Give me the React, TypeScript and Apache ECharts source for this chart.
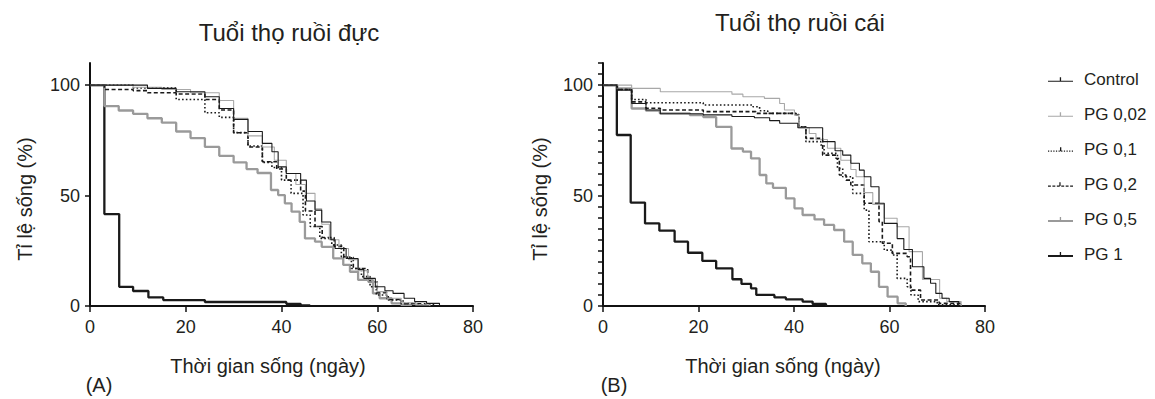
import React, { useEffect, useRef } from "react";
import * as echarts from "echarts";

// ---------- DATA ----------
const seriesNames = ["Control", "PG 0,02", "PG 0,1", "PG 0,2", "PG 0,5", "PG 1"];
const xTickValues = [0, 20, 40, 60, 80];
const yLabelValues = [0, 50, 100];
const yMinorTickValues = [0, 5, 10, 15, 20, 25, 30, 35, 40, 45, 50, 55, 60, 65, 70, 75, 80, 85, 90, 95, 100, 105, 110];

const titleA = "Tuổi thọ ruồi đực";
const titleB = "Tuổi thọ ruồi cái";
const xName = "Thời gian sống (ngày)";
const yName = "Tỉ lệ sống (%)";

// Male (A): [day, % alive]
const maleControl: [number, number][] = [[0, 100], [12, 98.5], [18, 97], [24, 94.7], [27, 89.4], [30, 84.5], [33, 79], [36, 73.6], [38, 69.8], [39.3, 63], [41, 60], [44, 57], [45.2, 47.5], [47, 43.4], [48.4, 38], [50.3, 30], [51.2, 26], [53.5, 21.5], [56, 16.5], [57.2, 12.5], [59.6, 8.7], [61.6, 6.9], [63.3, 5.7], [65.6, 3.5], [67.8, 2], [70.3, 1.2], [73, 0]];
const malePG002: [number, number][] = [[0, 100], [9, 99], [15, 98], [21, 96.5], [27, 93], [30, 85], [33, 77], [36, 72], [38.5, 66], [41, 60], [43, 55], [45, 51], [47, 44], [48.4, 37], [50, 30], [52, 26], [54, 21], [56, 16], [58, 11], [60, 6.5], [62, 3.5], [65, 1.5], [68, 0.5], [71, 0]];
const malePG01: [number, number][] = [[0, 100], [9, 98.7], [18, 93.5], [24, 87.5], [27, 85.4], [30, 78.5], [33, 72.4], [36, 65], [38, 62.7], [40, 57], [42, 51], [44.5, 41.2], [46, 36], [48, 30.6], [50.5, 27.6], [52.5, 22.3], [54.6, 17], [56.7, 13.3], [58.5, 8.7], [59.8, 5], [62.3, 2.7], [65.4, 1.2], [68, 0.5], [72, 0]];
const malePG02: [number, number][] = [[0, 100], [3, 98], [9, 97.5], [12, 96.5], [18, 96], [24, 93.5], [27, 88.7], [30, 78.4], [33, 72], [36, 65.3], [39, 62], [41, 57], [44, 52], [45, 43], [47, 36], [48.5, 31], [51, 27], [53, 22], [55, 17], [58, 11], [60, 6], [62, 3], [65, 1], [70, 0]];
const malePG05: [number, number][] = [[0, 100], [3, 90.5], [6, 88.5], [9, 87], [12, 85], [15, 83], [18, 79], [21, 76], [24, 72], [27, 68], [30, 65], [32.7, 62], [35, 60.2], [37.8, 52.5], [39.3, 50.2], [40.7, 46.5], [42.1, 42.7], [43.8, 38.1], [44.9, 30.6], [47, 29.1], [48.4, 26.8], [50.8, 21.6], [52.9, 18.6], [54.3, 15.5], [56, 11.8], [59.1, 5.7], [60.5, 3.5], [63, 1.2], [65, 0.5], [67, 0]];
const malePG1: [number, number][] = [[0, 100], [3, 41.6], [6.1, 8.7], [9, 6.8], [12.2, 3.9], [15.3, 2.7], [24, 1.8], [41, 1.0], [44, 0.3], [46, 0]];

// Female (B): [day, % alive]
const femaleControl: [number, number][] = [[0, 100], [2.9, 97.7], [6, 91.7], [9, 88.7], [12, 87], [21, 86.5], [27, 85.8], [31.7, 85.2], [34.9, 83.9], [37, 82.7], [40.8, 80.7], [46, 74.4], [48.6, 70.3], [50.2, 68.3], [51.9, 64.6], [53.7, 61.5], [54.7, 58.5], [56.1, 54], [57.8, 46.5], [58.9, 37.4], [61.6, 30.5], [63, 25.6], [64.8, 17.8], [67.2, 12.5], [68.6, 10.3], [69.7, 5.7], [71, 3.5], [72.5, 2], [74.5, 0]];
const femalePG002: [number, number][] = [[0, 100], [6, 98.5], [12, 97], [27, 95.9], [29.3, 94.7], [33.8, 94], [37, 91.7], [38, 88.7], [40.1, 86.4], [41, 80.7], [43.2, 78.1], [44.6, 75.4], [47, 71.4], [49.8, 66], [51.9, 61.8], [53, 58.5], [54.7, 51.3], [56.5, 46], [58.9, 39.7], [61.6, 35.9], [64.1, 24.6], [66.9, 12], [70.5, 3.5], [72, 2], [75, 0]];
const femalePG01: [number, number][] = [[0, 100], [3, 98], [6, 93.5], [9, 92], [21, 91], [31.4, 90.2], [32.8, 88.4], [34.5, 87.2], [40.4, 86.7], [41, 81.1], [42.5, 74.4], [45.6, 72.9], [46.3, 69.1], [49.1, 62.3], [50.2, 58.5], [52.3, 51], [54.7, 43.4], [55.7, 29.1], [58.9, 25.3], [60.6, 23.1], [61.6, 12.5], [63.7, 8.7], [64.5, 5], [66, 2], [70, 0.5], [75, 0]];
const femalePG02: [number, number][] = [[0, 100], [3, 98], [6, 92.4], [9, 89.5], [12, 88.7], [21, 88], [32, 87.2], [40.4, 86.5], [41, 81], [42.5, 75.9], [46, 68.3], [48.8, 66.8], [49.5, 59.3], [50.9, 57], [51.9, 54.8], [54.7, 46.5], [57.8, 38.2], [58.5, 28.4], [60.6, 23.8], [63.7, 22.3], [64.4, 7.2], [66.5, 2.7], [70.4, 1.2], [75, 0]];
const femalePG05: [number, number][] = [[0, 100], [2.9, 98.5], [6, 89.4], [9, 88.4], [11.9, 87.2], [18.2, 86.4], [21, 85.5], [23.7, 81.1], [26.9, 71.3], [29.3, 69.9], [31, 66.8], [32.8, 59.3], [34.2, 55.5], [35.6, 53.5], [38.3, 48.7], [40.1, 44.2], [41.8, 41.2], [44.3, 39.2], [46.3, 36.7], [48.4, 34.4], [50.5, 29.1], [52.3, 23.1], [54.3, 19.3], [56.1, 15.5], [57.8, 8.7], [59.6, 4.2], [61.7, 1.2], [63.4, 0]];
const femalePG1: [number, number][] = [[0, 100], [2.9, 77.4], [5.8, 46.8], [8.8, 37.4], [11.8, 34.1], [15, 29.1], [17.8, 24.1], [20.8, 20.4], [23.7, 17], [27.1, 12.1], [29, 10], [31, 8], [32.1, 5], [35.9, 3.9], [38.3, 3], [41.8, 2], [43.9, 0.9], [46.7, 0]];

const maleData = [maleControl, malePG002, malePG01, malePG02, malePG05, malePG1];
const femaleData = [femaleControl, femalePG002, femalePG01, femalePG02, femalePG05, femalePG1];

// ---------- STYLES ----------
const FONT = '"Liberation Sans", Arial, sans-serif';
const TEXT = "#231f20";
const styles = [
  { color: "#1a1a1a", width: 1.1, type: "solid" as any, kind: "solid", t: 1 },
  { color: "#a8a8a8", width: 1.1, type: "solid" as any, kind: "solid", t: 1 },
  { color: "#1a1a1a", width: 1.6, type: [1.6, 2.2] as any, kind: "dotted", t: 1.2 },
  { color: "#1a1a1a", width: 1.6, type: [4, 2.5] as any, kind: "dashed", t: 1.4 },
  { color: "#9a9a9a", width: 2.3, type: "solid" as any, kind: "solid", t: 2 },
  { color: "#1a1a1a", width: 2.3, type: "solid" as any, kind: "solid", t: 2 },
];

function iconPath(kind: string, t: number): string {
  let d = "";
  if (kind === "solid") {
    d += `M0,${6 - t / 2}h25v${t}h-25Z`;
  } else if (kind === "dotted") {
    for (let x = 0; x < 24; x += 2.6) d += `M${x},5.4h1.2v1.2h-1.2Z`;
  } else {
    for (let x = 0; x < 24; x += 4.6) d += `M${x},5.3h3v1.4h-3Z`;
  }
  d += "M11.8,2h1.3v4h-1.3Z";
  return "path://" + d;
}

export default function App() {
  const ref = useRef<HTMLDivElement>(null);
  useEffect(() => {
    if (!ref.current) return;
    const chart = echarts.init(ref.current, undefined, { renderer: "svg" });
    const grids = [
      { left: 90, top: 63, width: 383, height: 243 },
      { left: 603, top: 63, width: 382, height: 243 },
    ];
    const axisLine = { show: true, onZero: false, lineStyle: { color: "#111", width: 2 } };
    const xAxes = grids.map((_, i) => ({
      type: "value",
      gridIndex: i,
      min: 0,
      max: 80,
      interval: 20,
      axisLine,
      axisTick: { show: true, length: 6, lineStyle: { color: "#111", width: 1.5 }, customValues: xTickValues },
      axisLabel: { margin: 12, fontSize: 18, fontFamily: FONT, color: TEXT, customValues: xTickValues },
      splitLine: { show: false },
    }));
    const yAxes = grids.map((_, i) => ({
      type: "value",
      gridIndex: i,
      min: 0,
      max: 110,
      axisLine,
      axisTick: {
        show: true,
        length: 5,
        lineStyle: { color: "#111", width: 1.5 },
        customValues: i === 0 ? yLabelValues : yMinorTickValues,
      },
      axisLabel: { margin: 10, fontSize: 18, fontFamily: FONT, color: TEXT, customValues: yLabelValues },
      splitLine: { show: false },
    }));
    const series: any[] = [];
    [maleData, femaleData].forEach((group, gi) => {
      group.forEach((data, si) => {
        const st = styles[si];
        series.push({
          type: "line",
          name: seriesNames[si],
          xAxisIndex: gi,
          yAxisIndex: gi,
          step: "end",
          showSymbol: false,
          symbol: "none",
          data,
          color: st.color,
          itemStyle: { color: st.color },
          lineStyle: { color: st.color, width: st.width, type: st.type },
          z: 10 - si,
        });
      });
    });
    const txt = (x: number, y: number, text: string, size: number, rot = 0) => ({
      type: "text",
      x,
      y,
      rotation: rot,
      style: { text, fontSize: size, fontFamily: FONT, fill: TEXT, align: "center", verticalAlign: "middle" },
    });
    chart.setOption({
      animation: false,
      grid: grids,
      xAxis: xAxes,
      yAxis: yAxes,
      series,
      legend: {
        orient: "vertical",
        left: 1043,
        top: 66,
        itemWidth: 25,
        itemHeight: 8,
        itemGap: 18,
        itemStyle: { borderWidth: 0 },
        textStyle: { fontSize: 17, lineHeight: 16, fontFamily: FONT, color: TEXT, padding: [0, 0, 0, 6] },
        data: seriesNames.map((n, i) => ({ name: n, icon: iconPath(styles[i].kind, styles[i].t) })),
        selectedMode: false,
      },
      graphic: [
        txt(289, 32, titleA, 24),
        txt(800, 22, titleB, 24),
        txt(268, 366, xName, 20),
        txt(783, 366, xName, 20),
        txt(25, 199, yName, 20, Math.PI / 2),
        txt(540, 199, yName, 20, Math.PI / 2),
        txt(99, 385, "(A)", 20),
        txt(614, 385, "(B)", 20),
      ],
    });
    return () => chart.dispose();
  }, []);
  return <div ref={ref} style={{ position: "absolute", left: 0, top: 0, width: 1155, height: 399 }} />;
}
